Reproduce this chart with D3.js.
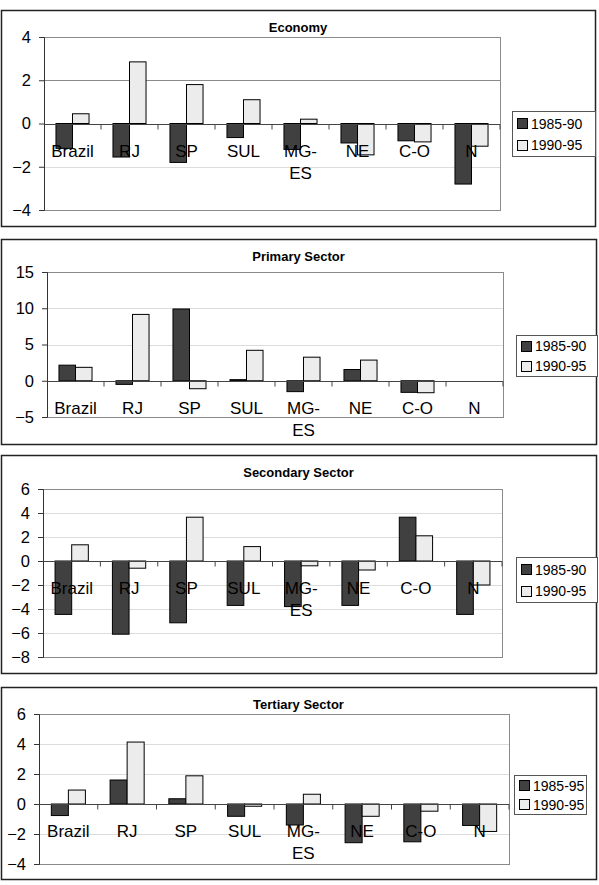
<!DOCTYPE html>
<html>
<head>
<meta charset="utf-8">
<style>
  body { margin: 0; background: #fff; }
  svg text { font-family: "Liberation Sans", Arial, sans-serif; fill: #000; }
</style>
</head>
<body>
<script src="https://cdn.jsdelivr.net/npm/d3@7/dist/d3.min.js"></script>
<script>
// categories
var regions = ["Brazil", "RJ", "SP", "SUL", "MG-ES", "NE", "C-O", "N"];

// Economy
var economyA = [-1.15, -1.55, -1.8, -0.65, -1.2, -0.9, -0.8, -2.8];
var economyB = [0.45, 2.85, 1.8, 1.1, 0.2, -1.45, -0.85, -1.05];
// Primary sector (no bars for N)
var primaryA = [2.15, -0.5, 9.9, 0.15, -1.5, 1.55, -1.6, null];
var primaryB = [1.85, 9.15, -1.1, 4.2, 3.25, 2.85, -1.65, null];
// Secondary sector
var secondaryA = [-4.45, -6.1, -5.15, -3.7, -3.8, -3.7, 3.65, -4.45];
var secondaryB = [1.35, -0.6, 3.65, 1.2, -0.4, -0.75, 2.1, -2.0];
// Tertiary sector
var tertiaryA = [-0.77, 1.6, 0.35, -0.82, -1.4, -2.58, -2.52, -1.43];
var tertiaryB = [0.93, 4.13, 1.88, -0.15, 0.65, -0.82, -0.48, -1.83];

// tick labels
var ticksEconomy = [-4, -2, 0, 2, 4];
var ticksPrimary = [-5, 0, 5, 10, 15];
var ticksSecondary = [-8, -6, -4, -2, 0, 2, 4, 6];
var ticksTertiary = [-4, -2, 0, 2, 4, 6];

var legendMain = ["1985-90", "1990-95"];
var legendTertiary = ["1985-95", "1990-95"];

var colors = ["#404040", "#ececec"];

var W = 599, H = 885;
var svg = d3.select("body").append("svg")
    .attr("width", W)
    .attr("height", H);

var panels = [
    { title: "Economy", a: economyA, b: economyB, ticks: ticksEconomy, legend: legendMain,
      box: [1, 10, 595, 226], plot: [44, 37, 500, 210], lg: [512, 111, 83, 45], darkGrid: true },
    { title: "Primary Sector", a: primaryA, b: primaryB, ticks: ticksPrimary, legend: legendMain,
      box: [1, 239, 596, 444], plot: [47, 272, 503, 417], lg: [516, 335, 81, 41] },
    { title: "Secondary Sector", a: secondaryA, b: secondaryB, ticks: ticksSecondary, legend: legendMain,
      box: [1, 455, 596, 673], plot: [43, 489, 502, 657], lg: [516, 557, 81, 45] },
    { title: "Tertiary Sector", a: tertiaryA, b: tertiaryB, ticks: ticksTertiary, legend: legendTertiary,
      box: [1, 687, 596, 879], plot: [39, 714, 509, 864], lg: [514, 775, 72, 39] }
];

panels.forEach(drawPanel);

function drawPanel(p) {
    var g = svg.append("g");
    var bx = p.box, pl = p.plot;

    // outer chart border
    g.append("rect")
        .attr("x", bx[0] + 0.5).attr("y", bx[1] + 0.5)
        .attr("width", bx[2] - bx[0]).attr("height", bx[3] - bx[1])
        .attr("fill", "#fff").attr("stroke", "#222").attr("stroke-width", 1.5);

    g.append("text")
        .attr("x", (bx[0] + bx[2]) / 2).attr("y", bx[1] + 17)
        .attr("text-anchor", "middle")
        .attr("dy", "0.35em")
        .style("font-size", "13px").style("font-weight", "bold")
        .text(p.title);

    var x = d3.scaleBand().domain(regions).range([pl[0], pl[2]]);
    var y = d3.scaleLinear().domain(d3.extent(p.ticks)).range([pl[3], pl[1]]);
    var barW = x.bandwidth() * 0.29;

    // gridlines
    g.selectAll(".grid").data(p.ticks.filter(function (t) { return t !== 0; }))
        .enter().append("line")
        .attr("x1", pl[0]).attr("x2", pl[2])
        .attr("y1", function (d) { return Math.round(y(d)) + 0.5; })
        .attr("y2", function (d) { return Math.round(y(d)) + 0.5; })
        .attr("stroke", function (d) { return p.darkGrid && d > 0 ? "#8a8a8a" : "#dcdcdc"; });

    // plot frame
    g.append("rect")
        .attr("x", pl[0] + 0.5).attr("y", Math.round(pl[1]) + 0.5)
        .attr("width", pl[2] - pl[0]).attr("height", pl[3] - pl[1])
        .attr("fill", "none").attr("stroke", "#8a8a8a");

    // bars
    var rows = regions.map(function (r, i) { return { r: r, a: p.a[i], b: p.b[i] }; });
    [["a", 0], ["b", 1]].forEach(function (s) {
        g.selectAll(".bar" + s[0]).data(rows.filter(function (d) { return d[s[0]] != null; }))
            .enter().append("rect")
            .attr("x", function (d) { return x(d.r) + x.bandwidth() / 2 - barW + s[1] * barW; })
            .attr("y", function (d) { return y(Math.max(0, d[s[0]])); })
            .attr("width", barW)
            .attr("height", function (d) { return Math.abs(y(d[s[0]]) - y(0)); })
            .attr("fill", colors[s[1]])
            .attr("stroke", "#000").attr("stroke-width", 1);
    });

    // y axis
    var yAxis = d3.axisLeft(y).tickValues(p.ticks).tickSize(5).tickPadding(8).tickFormat(d3.format("d"));
    var ya = g.append("g").attr("transform", "translate(" + pl[0] + ",0)").call(yAxis);
    ya.select(".domain").attr("stroke", "#333");
    ya.selectAll(".tick line").attr("stroke", "#333");
    ya.selectAll("text").style("font-size", "16.5px").attr("fill", "#000");

    // zero line with category ticks
    var y0 = Math.round(y(0)) + 0.5;
    g.append("line").attr("x1", pl[0]).attr("x2", pl[2]).attr("y1", y0).attr("y2", y0)
        .attr("stroke", "#444").attr("stroke-width", 1.2);
    g.selectAll(".ctick").data(regions.slice(1).concat(["end"]))
        .enter().append("line")
        .attr("x1", function (d) { return d === "end" ? pl[2] : x(d); })
        .attr("x2", function (d) { return d === "end" ? pl[2] : x(d); })
        .attr("y1", y0).attr("y2", y0 + 5)
        .attr("stroke", "#444");

    // category labels (under zero line)
    g.selectAll(".clabel").data(regions).enter().append("text")
        .attr("x", function (d) { return x(d) + x.bandwidth() / 2; })
        .attr("y", y0 + 32)
        .attr("text-anchor", "middle")
        .style("font-size", "17px")
        .each(function (d) {
            var parts = d.length > 4 && d.indexOf("-") > 0 ? [d.slice(0, d.indexOf("-") + 1), d.slice(d.indexOf("-") + 1)] : [d];
            var t = d3.select(this);
            parts.forEach(function (s, i) {
                t.append("tspan").attr("x", x(d) + x.bandwidth() / 2).attr("dy", i ? 22 : 0).text(s);
            });
        });

    // legend
    var lg = p.lg;
    g.append("rect")
        .attr("x", lg[0] + 0.5).attr("y", lg[1] + 0.5).attr("width", lg[2]).attr("height", lg[3])
        .attr("fill", "#fff").attr("stroke", "#555");
    p.legend.forEach(function (name, i) {
        var cy = lg[1] + lg[3] * (i ? 0.76 : 0.28);
        g.append("rect").attr("x", lg[0] + 5.5).attr("y", Math.round(cy - 5.5) + 0.5)
            .attr("width", 10).attr("height", 10)
            .attr("fill", colors[i]).attr("stroke", "#000");
        g.append("text").attr("x", lg[0] + 19).attr("y", cy).attr("dy", "0.35em")
            .style("font-size", "14px").text(name);
    });
}
</script>
</body>
</html>
